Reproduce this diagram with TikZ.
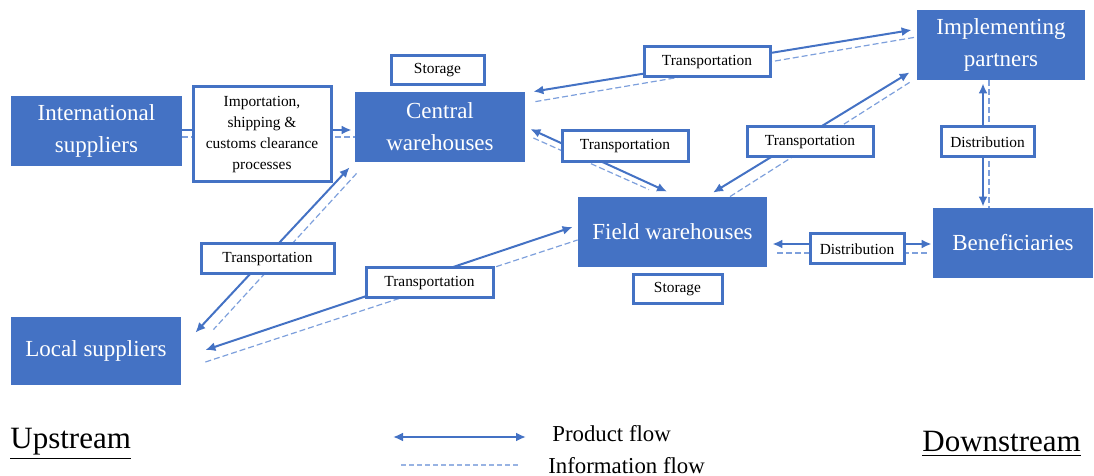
\documentclass[tikz,border=0pt]{standalone}
\usepackage{fontspec}
\setmainfont{Liberation Serif}
\usetikzlibrary{calc,arrows.meta}
\definecolor{boxblue}{HTML}{4472C4}
\definecolor{infoblue}{HTML}{7EA0DC}
\tikzset{
  actor/.style={fill=boxblue, text=white, align=center, inner sep=0pt,
    font=\fontsize{11.5}{16}\selectfont},
  tag/.style={draw=boxblue, line width=1.5pt, fill=white, align=center, inner sep=0pt,
    font=\fontsize{7.7}{10.5}\selectfont},
  product/.style={boxblue, line width=1pt, {Latex[length=5pt,width=4.5pt]}-{Latex[length=5pt,width=4.5pt]}},
  info/.style={infoblue, line width=0.6pt, dash pattern=on 3pt off 1.5pt}
}
\begin{document}
\begin{tikzpicture}[x=0.5pt, y=-0.5pt]
    \useasboundingbox (0,0) rectangle (1094,476);
    \node[actor, minimum width=85.5pt, minimum height=35pt] (is) at (96.5,131) {International\\suppliers};
    \node[actor, minimum width=85pt, minimum height=35pt] (cw) at (440,127) {Central\\warehouses};
    \node[actor, minimum width=84pt, minimum height=35pt] (ip) at (1001,45) {Implementing\\partners};
    \node[actor, minimum width=94.5pt, minimum height=35pt] (fw) at (672.5,232) {Field warehouses};
    \node[actor, minimum width=80pt, minimum height=35pt] (be) at (1013,243) {Beneficiaries};
    \node[actor, minimum width=85pt, minimum height=34pt] (ls) at (96,351) {Local suppliers};

    \draw[boxblue, line width=1pt, -{Latex[length=5pt,width=4.5pt]}] ($(is.east)+(0,-1)$) -- ($(cw.west)+(-3,3)$);
    \draw[info] ($(is.east)+(0,6)$) -- ($(cw.west)+(0,10)$);
    \draw[product] ($(cw.south west)+(-5,5)$) -- ($(ls.north east)+(14,16)$);
    \draw[info] ($(cw.south west)+(2,11)$) -- ($(ls.north east)+(32,13)$);
    \draw[product] ($(ls.east)+(24,-1)$) -- ($(fw.west)+(-5,-5)$);
    \draw[info] ($(ls.east)+(24,11)$) -- ($(fw.west)+(0,8)$);
    \draw[product] ($(cw.north east)+(8,0)$) -- ($(ip.west)+(-5,-15)$);
    \draw[info] ($(cw.north east)+(10,10)$) -- ($(ip.west)+(0,-8)$);
    \draw[product] ($(cw.east)+(5,2)$) -- ($(fw.north)+(-5.5,-5)$);
    \draw[info] ($(cw.east)+(8,11)$) -- ($(fw.north)+(-23.5,-7)$);
    \draw[product] ($(fw.north)+(40.5,-4)$) -- ($(ip.south west)+(-7,-8)$);
    \draw[info] ($(fw.north)+(57.5,0)$) -- ($(ip.south west)+(-7,2)$);
    \draw[product] ($(ip.south)+(-18,3)$) -- ($(be.north)+(-30,-1)$);
    \draw[info] ($(ip.south)+(-12,0)$) -- ($(be.north)+(-24,0)$);
    \draw[product] ($(fw.east)+(5,12)$) -- ($(be.west)+(-1,1)$);
    \draw[info] ($(fw.east)+(10,21)$) -- ($(be.west)+(-3,10)$);

    \node[tag, minimum width=69pt, minimum height=47.5pt] (imp) at (262,134.5) {Importation,\\shipping \&\\customs clearance\\processes};
    \node[tag, minimum width=46.5pt, minimum height=14.5pt] (st1) at (437.5,70.5) {Storage};
    \node[tag, minimum width=63pt, minimum height=15pt] (tr1) at (707,62) {Transportation};
    \node[tag, minimum width=63pt, minimum height=15.5pt] (tr2) at (625,146.5) {Transportation};
    \node[tag, minimum width=63pt, minimum height=15pt] (tr3) at (810,142) {Transportation};
    \node[tag, minimum width=46.5pt, minimum height=15pt] (di1) at (987.5,142) {Distribution};
    \node[tag, minimum width=47pt, minimum height=15pt] (di2) at (857,249) {Distribution};
    \node[tag, minimum width=44.5pt, minimum height=14.5pt] (st2) at (677.5,289.5) {Storage};
    \node[tag, minimum width=66.5pt, minimum height=15pt] (tr4) at (267.5,259) {Transportation};
    \node[tag, minimum width=63.5pt, minimum height=15pt] (tr5) at (429.5,283) {Transportation};

    \coordinate (pf1) at (393,437);
    \coordinate (pf2) at (526,437);
    \coordinate (if1) at (401,465);
    \coordinate (if2) at (518,465);
    \draw[product] (pf1) -- (pf2);
    \draw[infoblue!80, line width=0.6pt, dash pattern=on 2.5pt off 1.5pt] (if1) -- (if2);
    \node[anchor=west, inner sep=0pt, font=\fontsize{11.4}{13}\selectfont] (pfl) at (552,434) {Product flow};
    \node[anchor=west, inner sep=0pt, font=\fontsize{11.4}{13}\selectfont] (ifl) at (548,466) {Information flow};
    \node[anchor=west, inner sep=0pt, font=\fontsize{15.5}{17}\selectfont] (up) at (10,444) {\underline{Upstream}};
    \node[anchor=west, inner sep=0pt, font=\fontsize{15.5}{17}\selectfont] (down) at (922,444) {\underline{Downstream}};
\end{tikzpicture}
\end{document}
